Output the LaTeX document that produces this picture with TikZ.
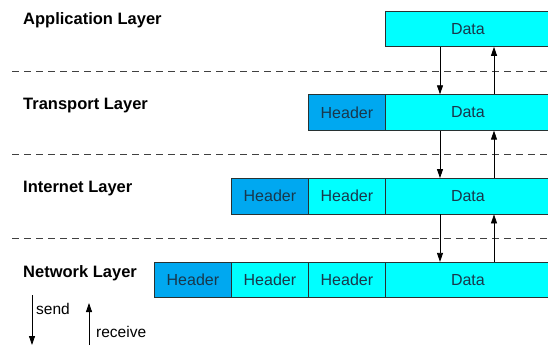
\documentclass[tikz,border=0pt]{standalone}
\usepackage{fontspec}
\setmainfont{Liberation Sans}
\usetikzlibrary{positioning, arrows.meta}

\definecolor{datacyan}{RGB}{0,255,255}
\definecolor{hdrblue}{RGB}{0,168,240}
\definecolor{boxtext}{RGB}{25,55,75}
\definecolor{boxline}{RGB}{40,50,50}

\begin{document}
\begin{tikzpicture}[
        x=1pt, y=-1pt,
        >={Triangle[length=9pt, width=6pt]},
        block/.style={draw=boxline, line width=0.8pt, anchor=north west, inner sep=0pt,
            minimum height=35.5pt, text=boxtext, font=\fontsize{16}{18}\selectfont},
        data/.style={block, fill=datacyan, minimum width=165pt},
        header/.style={block, fill=datacyan, minimum width=77pt},
        outer/.style={header, fill=hdrblue},
        layer/.style={anchor=west, inner sep=0pt, font=\fontsize{16.5}{19}\selectfont\bfseries},
        flow/.style={->, line width=0.8pt, black},
        sep/.style={dashed, dash pattern=on 7pt off 5pt, line width=0.8pt, black!75},
        note/.style={anchor=west, inner sep=0pt, font=\fontsize{15.5}{18}\selectfont},
    ]
        \useasboundingbox (0,0) rectangle (548,346);

        % Layer names
        \foreach \row/\name/\y in {1/Application/20, 2/Transport/106, 3/Internet/189, 4/Network/273}
            \node[layer] (L-\row) at (23,\y) {\name\ Layer};

        % Draw the data blocks
        \foreach \row/\y in {1/10.5, 2/94.3, 3/178.1, 4/261.9}
            \node[data] (D-\row) at (385,\y) {Data};

        % Headers added by the layer itself
        \foreach \row/\x/\y in {2/308/94.3, 3/231/178.1, 4/154/261.9}
            \node[outer] (H-\row-1) at (\x,\y) {Header};

        % Headers passed down from the layers above
        \foreach \row/\col/\x/\y in {3/2/308/178.1, 4/2/231/261.9, 4/3/308/261.9}
            \node[header] (H-\row-\col) at (\x,\y) {Header};

        % Dashed borders between the layers
        \foreach \y in {71, 154.8, 238.6}
            \draw[sep] (12,\y) -- (548,\y);

        % Connect every data block with the one below
        \coordinate (down) at (440,0);
        \coordinate (up) at (494,0);
        \foreach \source/\dest in {1/2, 2/3, 3/4} {
            \draw[flow] (D-\source.south -| down) -- (D-\dest.north -| down);
            \draw[flow] (D-\dest.north -| up) -- (D-\source.south -| up);
        }

        % Legend
        \coordinate (send-a) at (32,295);
        \coordinate (send-b) at (32,345);
        \coordinate (recv-a) at (89,345);
        \coordinate (recv-b) at (89,303);
        \draw[flow] (send-a) -- (send-b);
        \draw[flow] (recv-a) -- (recv-b);
        \node[note] (send) at (36,309) {send};
        \node[note] (recv) at (96,332) {receive};
    \end{tikzpicture}
\end{document}
